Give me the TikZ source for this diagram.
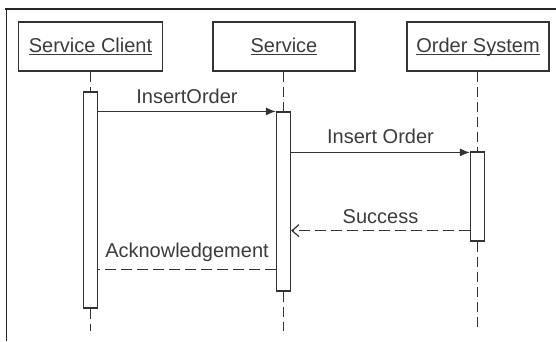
\documentclass[tikz,border=0pt]{standalone}
\usepackage{fontspec}
\setmainfont{Liberation Sans}
\usetikzlibrary{arrows.meta}
\definecolor{ink}{HTML}{333333}
\definecolor{txt}{HTML}{3C3C3C}
% underlined title with the rule at a fixed distance below the baseline
\newsavebox\ulbox
\newcommand\ultitle[1]{\sbox\ulbox{#1}\rlap{\rule[-2.6pt]{\wd\ulbox}{1pt}}\usebox\ulbox}
\begin{document}
\begin{tikzpicture}[x=1pt,y=-1pt,
  every node/.style={font=\fontsize{20}{24}\selectfont, text=txt},
  actor/.style={draw=ink, line width=1.3pt, fill=white, minimum height=49pt,
                inner sep=0pt, text height=15pt, text depth=4pt},
  bar/.style={draw=ink, line width=1.2pt, fill=white, minimum width=14pt, inner sep=0pt},
  life/.style={draw=ink, line width=1.2pt, dash pattern=on 10pt off 5pt},
  call/.style={draw=ink, line width=1.2pt, -{Latex[length=10pt,width=8pt]}},
  reply/.style={draw=ink, line width=1.2pt, dash pattern=on 11pt off 5pt},
  lbl/.style={midway, anchor=base}]
\useasboundingbox (0,0) rectangle (556,341);
\fill[white] (0,0) rectangle (556,341);
% outer frame (top and left edges)
\draw[line width=2pt, color=black!85] (5,8.5) -- (556,8.5);
\draw[line width=1.6pt, color=black!85] (6.5,8.5) -- (6.5,341);

% participants
\node[actor, minimum width=144pt] (client) at (90.5,46.5) {\ultitle{Service Client}};
\node[actor, minimum width=142pt] (service) at (284,46.5) {\ultitle{Service}};
\node[actor, minimum width=142pt] (order) at (478,46.5) {\ultitle{Order System}};

% activation bars
\node[bar, minimum height=216pt] (cbar) at (90.5,200) {};
\node[bar, minimum height=179pt] (sbar) at (283.5,201.5) {};
\node[bar, minimum height=89pt] (obar) at (477.5,196.5) {};

% lifeline ends
\coordinate (cend) at (90.5,331);
\coordinate (send) at (283.5,331);
\coordinate (oend) at (477.5,331);

% lifelines
\draw[life] (client.south -| cbar.north) -- (cbar.north);
\draw[life] (cbar.south) -- (cend);
\draw[life] (service.south -| sbar.north) -- (sbar.north);
\draw[life] (sbar.south) -- (send);
\draw[life] (order.south -| obar.north) -- (obar.north);
\draw[life] (obar.south) -- (oend);

% messages
\draw[call] (sbar.north west -| cbar.east) -- (sbar.north west)
  node[lbl, yshift=8pt] {InsertOrder};
\draw[call] ([yshift=-1pt]obar.north west -| sbar.east) -- ([yshift=-1pt]obar.north west)
  node[lbl, yshift=9pt] {Insert Order};
\draw[reply, -{Straight Barb[length=7pt,width=12pt]}]
  ([yshift=11pt]obar.south west) -- ([yshift=11pt]obar.south west -| sbar.east)
  node[lbl, yshift=7pt] {Success};
\draw[reply] ([yshift=22pt]sbar.south west) -- ([yshift=22pt]sbar.south west -| cbar.east)
  node[lbl, yshift=12pt] {Acknowledgement};
\end{tikzpicture}
\end{document}
